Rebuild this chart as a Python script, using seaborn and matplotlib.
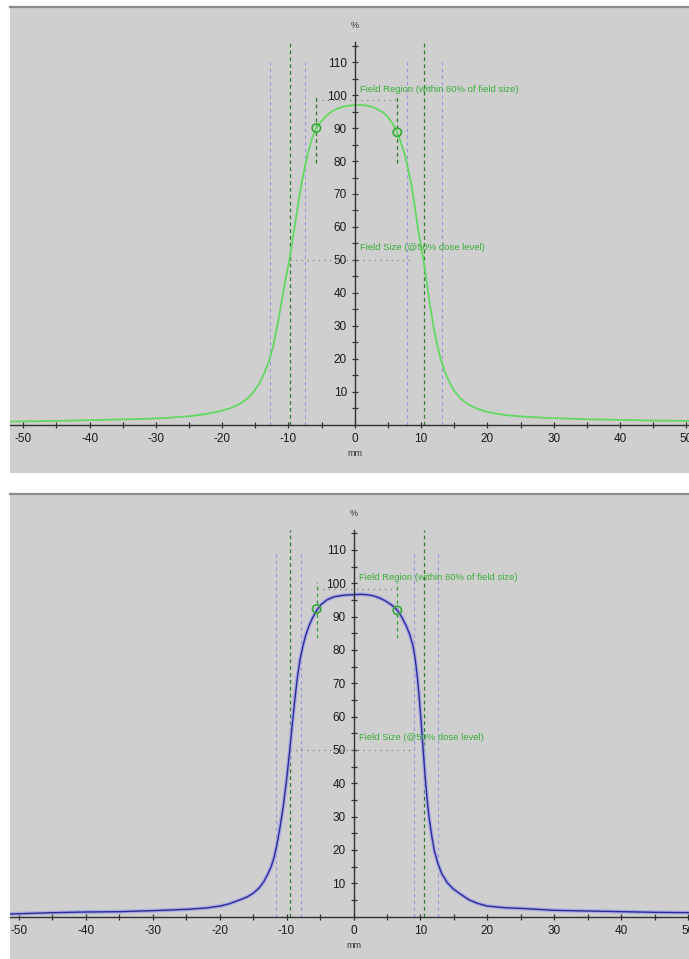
import numpy as np
import pandas as pd
import matplotlib
matplotlib.use("Agg")
import matplotlib.pyplot as plt
from matplotlib.ticker import FixedLocator
import seaborn as sns

# ---- beam profile data (position in mm, relative dose in %) ----
top_x = [-52.0, -45.0, -38.5, -32.0, -28.4, -25.0, -22.4, -20.4, -19.0, -18.0,
         -17.0, -16.0, -15.2, -14.4, -13.6, -12.9, -12.3, -11.7, -11.2, -10.6,
         -10.0, -9.5, -9.0, -8.5, -8.0, -7.5, -7.0, -6.5, -6.0, -5.5,
         -5.0, -4.3, -3.5, -2.5, -1.5, -0.5, 0.5, 1.5, 2.5, 3.5,
         4.3, 5.0, 5.7, 6.4, 7.0, 7.6, 8.1, 8.6, 9.1, 9.6,
         10.0, 10.4, 10.9, 11.4, 11.9, 12.4, 12.9, 13.5, 14.2, 15.0,
         15.9, 17.0, 18.2, 19.5, 21.0, 23.0, 25.4, 28.0, 30.5, 35.0,
         40.5, 45.0, 50.4]
top_y = [1.0, 1.2, 1.5, 1.8, 2.1, 2.6, 3.3, 4.1, 4.9, 5.7,
         6.8, 8.3, 10.2, 12.5, 15.9, 19.6, 24.0, 29.8, 35.5, 42.5,
         48.6, 54.5, 61.0, 67.5, 73.5, 78.5, 83.0, 86.6, 89.2, 90.9,
         92.2, 93.7, 95.0, 96.0, 96.6, 96.9, 97.0, 96.9, 96.5, 95.6,
         94.7, 93.3, 91.3, 88.7, 85.3, 81.5, 77.0, 72.0, 65.5, 58.5,
         54.0, 49.5, 42.5, 35.5, 29.5, 24.5, 20.3, 16.5, 13.2, 10.3,
         8.1, 6.3, 5.1, 4.2, 3.5, 2.9, 2.5, 2.2, 2.0, 1.7,
         1.5, 1.3, 1.2]

bot_x = [-51.3, -44.8, -40.0, -34.9, -29.9, -24.9, -22.0, -19.9, -18.5, -17.3,
         -16.0, -15.0, -14.1, -13.4, -12.8, -12.3, -11.9, -11.5, -11.0, -10.5,
         -10.0, -9.6, -9.2, -8.8, -8.4, -8.0, -7.6, -7.2, -6.7, -6.2,
         -5.5, -4.8, -4.0, -3.0, -2.0, -1.0, 0.0, 1.0, 1.9, 2.9,
         3.9, 4.7, 5.4, 6.0, 6.55, 7.2, 7.9, 8.4, 8.9, 9.2,
         9.5, 9.8, 10.1, 10.4, 10.7, 11.0, 11.3, 11.7, 12.1, 12.6,
         13.2, 14.0, 14.8, 15.8, 17.3, 18.5, 19.9, 22.5, 25.8, 30.0,
         35.0, 40.0, 45.0, 50.1]
bot_y = [0.8, 1.2, 1.4, 1.5, 1.8, 2.2, 2.6, 3.2, 3.9, 4.8,
         5.8, 7.0, 8.6, 10.5, 12.8, 15.0, 17.5, 21.0, 26.5, 33.0,
         41.0, 48.5, 56.5, 64.5, 71.5, 77.0, 80.8, 84.0, 87.0, 89.3,
         91.9, 93.7, 95.0, 95.9, 96.3, 96.5, 96.6, 96.7, 96.6, 96.3,
         95.6, 94.8, 93.9, 93.0, 91.9, 89.9, 87.1, 84.6, 81.1, 77.5,
         72.5, 66.0, 58.5, 50.0, 42.0, 35.0, 29.5, 24.0, 19.5, 16.0,
         12.8, 10.2, 8.5, 7.0, 5.0, 4.0, 3.2, 2.7, 2.4, 1.9,
         1.7, 1.5, 1.3, 1.2]

# 50 % dose level crossings (field size)
top_field_edges = [-9.8, 10.4]
bot_field_edges = [-9.5, 10.5]
# penumbra markers
top_penumbra = [-12.75, -7.5, 7.85, 13.1]
bot_penumbra = [-11.55, -7.8, 9.0, 12.6]
# field region limits (within 60 % of field size) and dose at those points
top_region = [-5.8, 6.4]
top_region_dose = [90.0, 88.7]
bot_region = [-5.5, 6.55]
bot_region_dose = [92.3, 91.9]

region_label = "Field Region (within 60% of field size)"
size_label = "Field Size (@50% dose level)"
x_major = list(range(-50, 51, 10))
x_minor = list(range(-45, 46, 10))
y_major = list(range(10, 111, 10))
y_minor = list(range(5, 116, 10))

# ---- styling ----
sns.set_theme(style="white")
NARROW = ["Liberation Sans Narrow", "Liberation Sans", "DejaVu Sans"]
plt.rcParams["font.family"] = NARROW

PANEL_BG = "#cfcfcf"
BORDER = "#8a8a8a"
AXIS_C = "#303030"
TXT_GREEN = "#3aae3a"
DARK_GREEN = "#2c7a2c"
LIGHT_BLUE = "#9494e2"
DOT_C = "#6f8f6f"

fig = plt.figure(figsize=(6.89, 9.59), dpi=100, facecolor="white")

W, H = 689.0, 959.0
ax_top = fig.add_axes([10 / W, 1 - 473 / H, 679 / W, 466 / H])
ax_bot = fig.add_axes([10 / W, 0.0, 679 / W, 465 / H])


def draw_panel(ax, xs, ys, xlim, ylim, edges, penumbra, region, region_dose,
               region_low, dot50, curve):
    ax.set_facecolor(PANEL_BG)
    ax.set_xlim(*xlim)
    ax.set_ylim(*ylim)

    # guide lines
    ax.vlines(penumbra, 0, 110, colors=LIGHT_BLUE, lw=0.8,
              linestyles=(0, (3, 3)), zorder=2)
    ax.vlines(edges, 0, 116, colors=DARK_GREEN, lw=0.9,
              linestyles=(0, (3, 2.5)), zorder=2)
    ax.vlines(region, region_low, 100.3,
              colors=DARK_GREEN if curve == "green" else "#3f9f3f", lw=0.9,
              linestyles=(0, (3, 2.5)), zorder=2)
    ax.hlines(98.4, region[0], region[1], colors=DOT_C, lw=0.9,
              linestyles=(0, (1, 3.5)), zorder=2)
    ax.hlines(50, dot50[0], dot50[1], colors=DOT_C, lw=0.9,
              linestyles=(0, (1, 3.5)), zorder=2)

    df = pd.DataFrame({"pos": xs, "dose": ys})
    if curve == "green":
        sns.lineplot(data=df, x="pos", y="dose", ax=ax, color="#62d862",
                     lw=1.3, zorder=4)
    else:
        sns.lineplot(data=df, x="pos", y="dose", ax=ax, color="#a0a0ea",
                     lw=2.8, alpha=0.8, zorder=3)
        sns.lineplot(data=df, x="pos", y="dose", ax=ax, color="#2c2c92",
                     lw=1.0, zorder=4)

    sns.scatterplot(x=region, y=region_dose, ax=ax, s=36, marker="o",
                    facecolor="none", edgecolor="#36a836", linewidth=1.2,
                    zorder=5)

    # axes through the origin
    ax.spines["right"].set_visible(False)
    ax.spines["top"].set_color(BORDER)
    ax.spines["top"].set_linewidth(1.6)
    ax.spines["left"].set_position(("data", 0))
    ax.spines["bottom"].set_position(("data", 0))
    ax.spines["left"].set_bounds(0, 116)
    for side in ("left", "bottom"):
        ax.spines[side].set_color(AXIS_C)
        ax.spines[side].set_linewidth(1.0)
        ax.spines[side].set_zorder(6)

    ax.xaxis.set_major_locator(FixedLocator(x_major))
    ax.xaxis.set_minor_locator(FixedLocator(x_minor))
    ax.yaxis.set_major_locator(FixedLocator(y_major))
    ax.yaxis.set_minor_locator(FixedLocator(y_minor))
    ax.set_xticklabels([str(v) for v in x_major])
    ax.set_yticklabels([str(v) for v in y_major])
    ax.tick_params(which="both", direction="inout", length=5, width=0.9,
                   color=AXIS_C, bottom=True, left=True, top=False,
                   right=False)
    ax.tick_params(which="major", labelsize=8.5, labelcolor="#1a1a1a", pad=3.2)
    ax.set_xlabel("")
    ax.set_ylabel("")

    ax.text(0, 121, "%", ha="center", va="center", fontsize=6.5,
            color="#333333")
    ax.text(0, -8.8, "mm", ha="center", va="center", fontsize=6.5,
            color="#333333")
    ax.text(0.8, 101.8, region_label, ha="left", va="center", fontsize=6.8,
            color=TXT_GREEN, zorder=7)
    ax.text(0.8, 53.7, size_label, ha="left", va="center", fontsize=6.8,
            color=TXT_GREEN, zorder=7)


draw_panel(ax_top, top_x, top_y, (-52.0, 50.4), (-14.6, 126.7),
           top_field_edges, top_penumbra, top_region, top_region_dose,
           79.5, (-9.8, 8.5), "green")
draw_panel(ax_bot, bot_x, bot_y, (-51.3, 50.1), (-12.7, 126.8),
           bot_field_edges, bot_penumbra, bot_region, bot_region_dose,
           83.5, (-9.5, 8.9), "blue")

fig.savefig("out.png", dpi=100, facecolor="white")
